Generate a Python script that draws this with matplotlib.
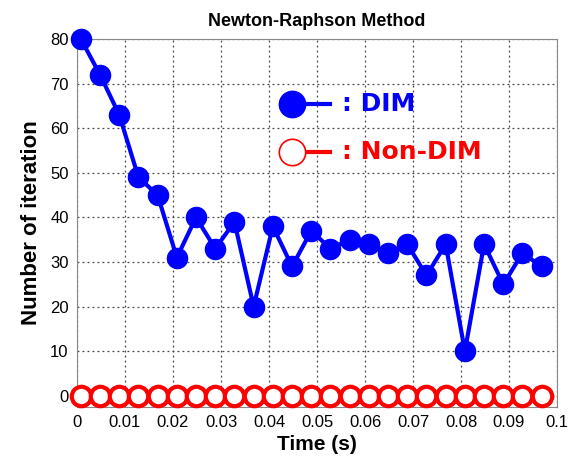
import matplotlib
matplotlib.use('Agg')
import matplotlib.pyplot as plt

# time steps (s)
time = [0.0008, 0.0048, 0.0088, 0.0128, 0.0168, 0.0208, 0.0248, 0.0288, 0.0328,
        0.0368, 0.0408, 0.0448, 0.0488, 0.0528, 0.0568, 0.0608, 0.0648, 0.0688,
        0.0728, 0.0768, 0.0808, 0.0848, 0.0888, 0.0928, 0.0968]
# number of iterations
dim_iter = [80, 72, 63, 49, 45, 31, 40, 33, 39, 20, 38, 29, 37, 33, 35, 34, 32, 34,
            27, 34, 10, 34, 25, 32, 29]
nondim_iter = [0, 0, 0, 0, 0, 0, 0, 0, 0, 0, 0, 0, 0, 0, 0, 0, 0, 0,
               0, 0, 0, 0, 0, 0, 0]

plt.rcParams['font.family'] = ['Liberation Sans', 'DejaVu Sans']

fig = plt.figure(figsize=(5.69, 4.68), dpi=100)
ax = fig.add_axes([0.1353, 0.1303, 0.8437, 0.7864])

ax.plot(time, dim_iter, color='#0000ff', lw=3, marker='o', ms=14.5,
        markerfacecolor='#0000ff', markeredgecolor='#0000ff', clip_on=False, zorder=3)
ax.plot(time, nondim_iter, color='#ff0000', lw=3, marker='o', ms=14,
        markerfacecolor='white', markeredgecolor='#ff0000', markeredgewidth=3,
        clip_on=False, zorder=3)

ax.set_xlim(0, 0.1)
ax.set_ylim(-2.5, 80)
ax.set_xticks([0, 0.01, 0.02, 0.03, 0.04, 0.05, 0.06, 0.07, 0.08, 0.09, 0.1])
ax.set_xticklabels(['0', '0.01', '0.02', '0.03', '0.04', '0.05', '0.06', '0.07',
                    '0.08', '0.09', '0.1'])
ax.set_yticks([0, 10, 20, 30, 40, 50, 60, 70, 80])
ax.tick_params(length=0, labelsize=12, pad=6)
ax.grid(True, linestyle=(0, (1.5, 2.5)), color='#444444', lw=0.9)
for s in ax.spines.values():
    s.set_color('#888888')

ax.set_title('Newton-Raphson Method', fontsize=13, fontweight='bold', pad=9)
ax.set_xlabel('Time (s)', fontsize=15, fontweight='bold', labelpad=3)
ax.set_ylabel('Number of iteration', fontsize=16, fontweight='bold', labelpad=6)

# hand-made legend
ax.plot([0.448, 0.527], [0.823, 0.823], color='#0000ff', lw=3, transform=ax.transAxes)
ax.plot([0.448], [0.823], marker='o', ms=19, color='#0000ff', transform=ax.transAxes)
ax.text(0.552, 0.823, ': DIM', color='#0000ff', fontsize=18, fontweight='bold',
        family='DejaVu Sans', va='center', ha='left', transform=ax.transAxes)
ax.plot([0.448, 0.527], [0.693, 0.693], color='#ff0000', lw=3, transform=ax.transAxes)
ax.plot([0.448], [0.693], marker='o', ms=19, markerfacecolor='white',
        markeredgecolor='#ff0000', markeredgewidth=1.2, transform=ax.transAxes)
ax.text(0.552, 0.693, ': Non-DIM', color='#ff0000', fontsize=18, fontweight='bold',
        family='DejaVu Sans', va='center', ha='left', transform=ax.transAxes)

fig.savefig('out.png', dpi=100)
